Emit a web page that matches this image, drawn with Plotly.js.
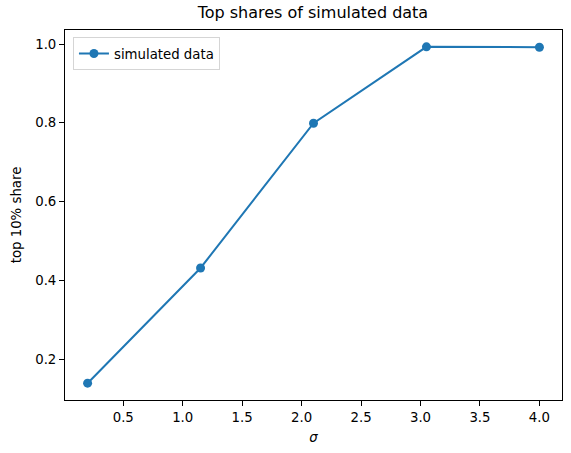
<!DOCTYPE html>
<html>
<head>
<meta charset="utf-8">
<script src="https://cdn.plot.ly/plotly-3.0.1.min.js"></script>
<style>html,body{margin:0;padding:0;background:#fff;}#chart{width:571px;height:453px;}</style>
</head>
<body>
<div id="chart"></div>
<script>
var sigma = [0.2, 1.15, 2.1, 3.05, 4.0];
var topShare = [0.139, 0.4315, 0.799, 0.993, 0.992];
var xTicks = [0.5, 1.0, 1.5, 2.0, 2.5, 3.0, 3.5, 4.0];
var yTicks = [0.2, 0.4, 0.6, 0.8, 1.0];
var seriesName = "simulated data";

var trace = {
  x: sigma, y: topShare, name: seriesName,
  type: "scatter", mode: "lines+markers",
  line: {color: "#1f77b4", width: 2},
  marker: {color: "#1f77b4", size: 9}
};
var font = {family: "DejaVu Sans, sans-serif", size: 13.3, color: "#000"};
var layout = {
  width: 571, height: 453,
  margin: {l: 65, r: 9, t: 30, b: 53},
  paper_bgcolor: "#fff", plot_bgcolor: "#fff",
  font: font,
  showlegend: true,
  title: {text: "Top shares of simulated data", font: {family: font.family, size: 16, color: "#000"}, x: 0.548, xanchor: "center", y: 0.972, yanchor: "middle"},
  xaxis: {
    range: [0.01, 4.19], tickvals: xTicks, ticktext: xTicks.map(function(v){return v.toFixed(1);}),
    showgrid: false, zeroline: false, showline: true, mirror: true, linecolor: "#000", linewidth: 1,
    ticks: "outside", ticklen: 5, tickwidth: 1, tickcolor: "#000",
    title: {text: "<i>σ</i>", font: font, standoff: 8}
  },
  yaxis: {
    range: [0.0963, 1.0357], tickvals: yTicks, ticktext: yTicks.map(function(v){return v.toFixed(1);}),
    showgrid: false, zeroline: false, showline: true, mirror: true, linecolor: "#000", linewidth: 1,
    ticks: "outside", ticklen: 5, tickwidth: 1, tickcolor: "#000",
    title: {text: "top 10% share", font: font, standoff: 10}
  },
  legend: {x: 0.016, y: 0.98, xanchor: "left", yanchor: "top", bordercolor: "#d5d5d5", borderwidth: 1, bgcolor: "rgba(255,255,255,0.8)", font: font}
};
Plotly.newPlot("chart", [trace], layout, {displayModeBar: false, staticPlot: true});
</script>
</body>
</html>
